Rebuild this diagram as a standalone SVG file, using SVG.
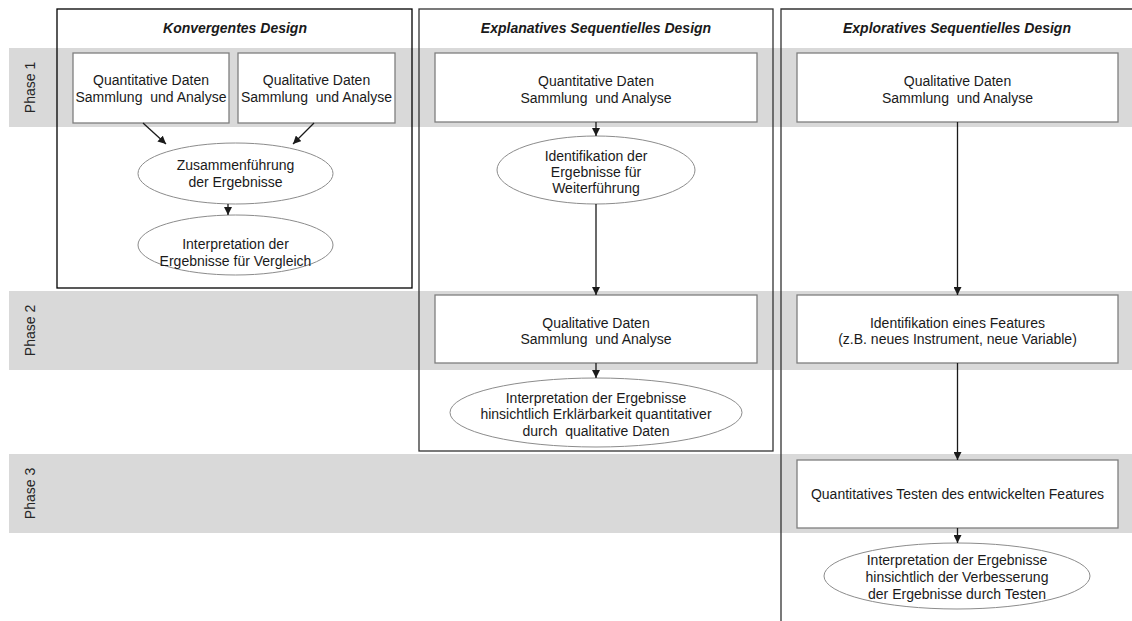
<svg xmlns="http://www.w3.org/2000/svg" width="1132" height="621" viewBox="0 0 1132 621">
  <style>
    .band { fill: #d9d9d9; }
    .col { fill: none; stroke: #1a1a1a; stroke-width: 1.3; }
    .box { fill: #ffffff; stroke: #7f7f7f; stroke-width: 1.3; }
    .oval { fill: #ffffff; stroke: #8c8c8c; stroke-width: 1; }
    .t { font-family: "Liberation Sans", Arial, sans-serif; font-size: 14px; fill: #1a1a1a; text-anchor: middle; white-space: pre; }
    .title { font-family: "Liberation Sans", Arial, sans-serif; font-size: 14px; font-weight: bold; font-style: italic; fill: #1a1a1a; text-anchor: middle; }
    .phase { font-family: "Liberation Sans", Arial, sans-serif; font-size: 14px; fill: #262626; text-anchor: middle; }
    .edge { fill: none; stroke: #1a1a1a; stroke-width: 1.3; marker-end: url(#arrow); }
  </style>
  <defs>
    <marker id="arrow" markerUnits="userSpaceOnUse" markerWidth="9" markerHeight="8" refX="8" refY="4" orient="auto">
      <path d="M0,0 L8,4 L0,8 z" fill="#1a1a1a"/>
    </marker>
  </defs>

  <rect width="1132" height="621" fill="#ffffff"/>

  <!-- phase bands -->
  <g id="phases">
    <rect class="band" x="9" y="48" width="1123" height="79"/>
    <rect class="band" x="9" y="291" width="1123" height="79"/>
    <rect class="band" x="9" y="454" width="1123" height="79"/>
    <text class="phase" transform="translate(35,87.5) rotate(-90)">Phase 1</text>
    <text class="phase" transform="translate(35,330.5) rotate(-90)">Phase 2</text>
    <text class="phase" transform="translate(35,493.5) rotate(-90)">Phase 3</text>
  </g>

  <!-- design columns -->
  <g id="columns">
    <rect class="col" x="57" y="9" width="355" height="279" style="stroke:#000000"/>
    <rect class="col" x="419" y="9" width="354" height="442" style="stroke:#333333"/>
    <path class="col" d="M781,621 V9 H1132" style="stroke:#333333"/>
    <text class="title" x="235" y="33">Konvergentes Design</text>
    <text class="title" x="596" y="33">Explanatives Sequentielles Design</text>
    <text class="title" x="957" y="33">Exploratives Sequentielles Design</text>
  </g>

  <!-- convergent design -->
  <g id="konv-quant">
    <rect class="box" x="73" y="53" width="156" height="70"/>
    <text class="t" x="151" y="85">Quantitative Daten</text>
    <text class="t" x="151" y="102">Sammlung  und Analyse</text>
  </g>
  <g id="konv-qual">
    <rect class="box" x="238" y="53" width="157" height="70"/>
    <text class="t" x="316.5" y="85">Qualitative Daten</text>
    <text class="t" x="316.5" y="102">Sammlung  und Analyse</text>
  </g>
  <g id="konv-merge">
    <ellipse class="oval" cx="235.5" cy="173.5" rx="97.5" ry="30.5"/>
    <text class="t" x="235.5" y="170">Zusammenführung</text>
    <text class="t" x="235.5" y="187">der Ergebnisse</text>
  </g>
  <g id="konv-interp">
    <ellipse class="oval" cx="235.5" cy="245" rx="97.5" ry="30"/>
    <text class="t" x="235.5" y="249">Interpretation der</text>
    <text class="t" x="235.5" y="266">Ergebnisse für Vergleich</text>
  </g>

  <!-- explanatory sequential design -->
  <g id="expl-quant">
    <rect class="box" x="435" y="53" width="322" height="69"/>
    <text class="t" x="596" y="86">Quantitative Daten</text>
    <text class="t" x="596" y="103">Sammlung  und Analyse</text>
  </g>
  <g id="expl-ident">
    <ellipse class="oval" cx="596" cy="170" rx="99" ry="34"/>
    <text class="t" x="596" y="161">Identifikation der</text>
    <text class="t" x="596" y="177">Ergebnisse für</text>
    <text class="t" x="596" y="193">Weiterführung</text>
  </g>
  <g id="expl-qual">
    <rect class="box" x="435" y="295" width="322" height="68"/>
    <text class="t" x="596" y="328">Qualitative Daten</text>
    <text class="t" x="596" y="344">Sammlung  und Analyse</text>
  </g>
  <g id="expl-interp">
    <ellipse class="oval" cx="596" cy="412.5" rx="146" ry="34.5"/>
    <text class="t" x="596" y="403">Interpretation der Ergebnisse</text>
    <text class="t" x="596" y="419">hinsichtlich Erklärbarkeit quantitativer</text>
    <text class="t" x="596" y="436">durch  qualitative Daten</text>
  </g>

  <!-- exploratory sequential design -->
  <g id="explo-qual">
    <rect class="box" x="797" y="53" width="321" height="69"/>
    <text class="t" x="957.5" y="86">Qualitative Daten</text>
    <text class="t" x="957.5" y="103">Sammlung  und Analyse</text>
  </g>
  <g id="explo-feature">
    <rect class="box" x="797" y="295" width="321" height="68"/>
    <text class="t" x="957.5" y="328">Identifikation eines Features</text>
    <text class="t" x="957.5" y="344">(z.B. neues Instrument, neue Variable)</text>
  </g>
  <g id="explo-test">
    <rect class="box" x="797" y="460" width="321" height="68"/>
    <text class="t" x="957.5" y="499">Quantitatives Testen des entwickelten Features</text>
  </g>
  <g id="explo-interp">
    <ellipse class="oval" cx="957" cy="576" rx="133" ry="33"/>
    <text class="t" x="957" y="565">Interpretation der Ergebnisse</text>
    <text class="t" x="957" y="582">hinsichtlich der Verbesserung</text>
    <text class="t" x="957" y="599">der Ergebnisse durch Testen</text>
  </g>

  <!-- connectors -->
  <g id="connectors">
    <line class="edge" x1="143" y1="123" x2="166" y2="144"/>
    <line class="edge" x1="314" y1="123" x2="293" y2="144"/>
    <line class="edge" x1="228" y1="204" x2="228" y2="215"/>
    <line class="edge" x1="596" y1="122" x2="596" y2="136"/>
    <line class="edge" x1="596" y1="204" x2="596" y2="295"/>
    <line class="edge" x1="596" y1="363" x2="596" y2="378"/>
    <line class="edge" x1="957.5" y1="122" x2="957.5" y2="295"/>
    <line class="edge" x1="957.5" y1="363" x2="957.5" y2="460"/>
    <line class="edge" x1="957.5" y1="528" x2="957.5" y2="543"/>
  </g>
</svg>
